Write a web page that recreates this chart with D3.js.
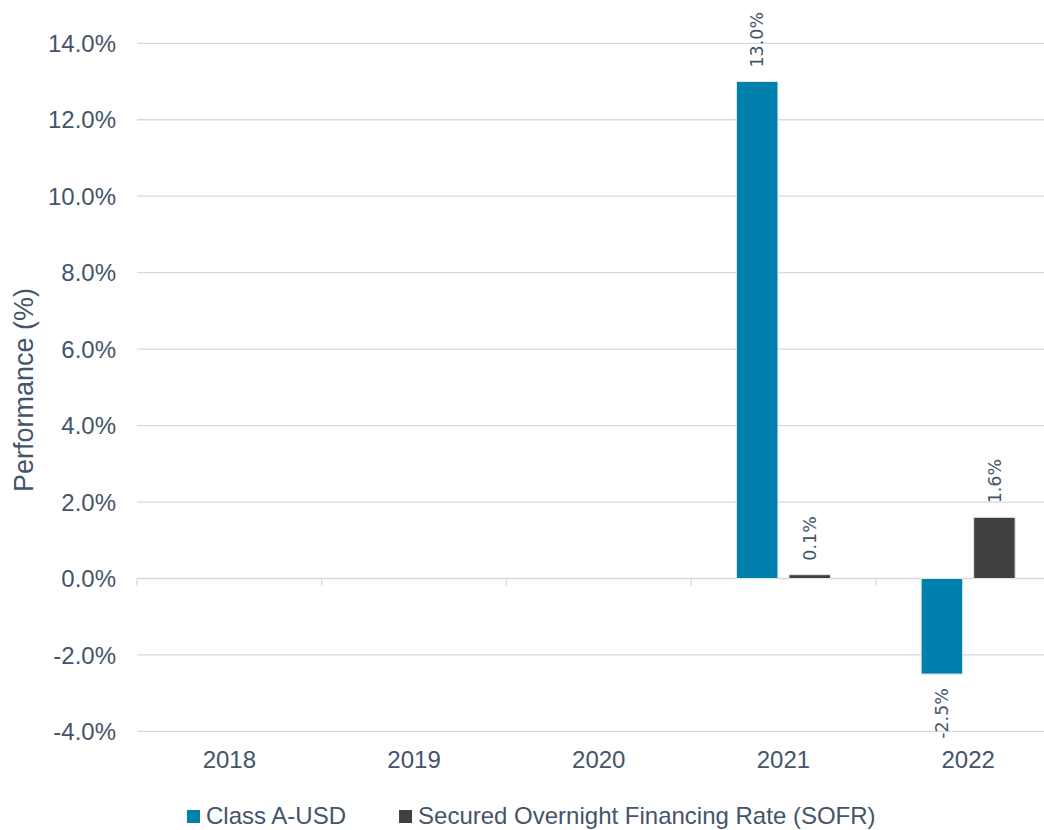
<!DOCTYPE html>
<html>
<head>
<meta charset="utf-8">
<script src="https://cdn.jsdelivr.net/npm/d3@7"></script>
<style>
  html, body { margin: 0; padding: 0; background: #fff; }
  svg { display: block; overflow: hidden; }
</style>
</head>
<body>
<div id="chart"></div>
<script>
// Chart data
const years = ['2018', '2019', '2020', '2021', '2022'];
const seriesNames = ['Class A-USD', 'Secured Overnight Financing Rate (SOFR)'];
const classA = [null, null, null, 13.0, -2.5];
const sofr = [null, null, null, 0.1, 1.6];
const yTicks = [-4, -2, 0, 2, 4, 6, 8, 10, 12, 14];
const colors = ['#0080ad', '#404040'];

const width = 1044, height = 830;
const textColor = '#44546a';
const axisFont = '"Liberation Sans", Arial, sans-serif';

const svg = d3.select('#chart')
    .append('svg')
    .attr('width', width)
    .attr('height', height);

// Plot area (right side runs a bit past the window, like the original)
const left = 137, right = 1060.5;
const x = d3.scaleBand().domain(years).range([left, right]);
const xInner = d3.scaleBand().domain(seriesNames)
    .range([(x.bandwidth() - 94) / 2, (x.bandwidth() + 94) / 2])
    .paddingInner(0.21);
const y = d3.scaleLinear().domain([-4, 14]).range([731.4, 43.3]);

// Gridlines
svg.append('g')
    .selectAll('line')
    .data(yTicks)
    .join('line')
    .attr('x1', left)
    .attr('x2', right)
    .attr('y1', d => y(d))
    .attr('y2', d => y(d))
    .attr('stroke', '#d9d9d9')
    .attr('stroke-width', 1.3);

// Y axis labels
svg.append('g')
    .selectAll('text')
    .data(yTicks)
    .join('text')
    .attr('x', 116)
    .attr('y', d => y(d))
    .attr('dy', '0.36em')
    .attr('text-anchor', 'end')
    .attr('font-family', axisFont)
    .attr('font-size', 24)
    .attr('fill', textColor)
    .text(d => d.toFixed(1) + '%');

// Category tick marks on the zero line
const boundaries = years.map(d => x(d)).concat([right]);
svg.append('g')
    .selectAll('line')
    .data(boundaries)
    .join('line')
    .attr('x1', d => d)
    .attr('x2', d => d)
    .attr('y1', y(0))
    .attr('y2', y(0) + 7)
    .attr('stroke', '#d9d9d9')
    .attr('stroke-width', 1.3);

// X axis labels
svg.append('g')
    .selectAll('text')
    .data(years)
    .join('text')
    .attr('x', d => x(d) + x.bandwidth() / 2)
    .attr('y', 768)
    .attr('text-anchor', 'middle')
    .attr('font-family', axisFont)
    .attr('font-size', 24)
    .attr('fill', textColor)
    .text(d => d);

// Y axis title
svg.append('text')
    .attr('transform', `translate(33, 390) rotate(-90)`)
    .attr('text-anchor', 'middle')
    .attr('font-family', axisFont)
    .attr('font-size', 27)
    .attr('fill', textColor)
    .text('Performance (%)');

// Bars
const rows = [];
[classA, sofr].forEach((vals, si) => {
    vals.forEach((v, i) => {
        if (v !== null) rows.push({ year: years[i], series: seriesNames[si], value: v, si });
    });
});

const barX = d => x(d.year) + xInner(d.series);

svg.append('g')
    .selectAll('rect')
    .data(rows)
    .join('rect')
    .attr('x', barX)
    .attr('width', xInner.bandwidth())
    .attr('y', d => y(Math.max(0, d.value)))
    .attr('height', d => Math.abs(y(d.value) - y(0)))
    .attr('fill', d => colors[d.si])
    .attr('stroke', '#e6e6e6')
    .attr('stroke-width', 1);

// Data labels (rotated)
svg.append('g')
    .selectAll('text')
    .data(rows)
    .join('text')
    .attr('transform', d => {
        const cx = barX(d) + xInner.bandwidth() / 2;
        const cy = d.value >= 0 ? y(d.value) - 14 : y(d.value) + 14;
        return `translate(${cx},${cy}) rotate(-90)`;
    })
    .attr('dy', '0.35em')
    .attr('text-anchor', d => d.value >= 0 ? 'start' : 'end')
    .attr('font-family', '"DejaVu Sans", Verdana, sans-serif')
    .attr('font-size', 17.5)
    .attr('fill', textColor)
    .text(d => d.value.toFixed(1) + '%');

// Legend (kept just inside the bottom edge)
const legend = svg.append('g');
let lx = 187;
seriesNames.forEach((name, i) => {
    legend.append('rect')
        .attr('x', lx)
        .attr('y', 810)
        .attr('width', 13)
        .attr('height', 13)
        .attr('fill', colors[i]);
    const t = legend.append('text')
        .attr('x', lx + 19)
        .attr('y', 824)
        .attr('font-family', axisFont)
        .attr('font-size', 24)
        .attr('fill', textColor)
        .text(name);
    lx = lx + 19 + t.node().getComputedTextLength() + 53;
});
</script>
</body>
</html>
